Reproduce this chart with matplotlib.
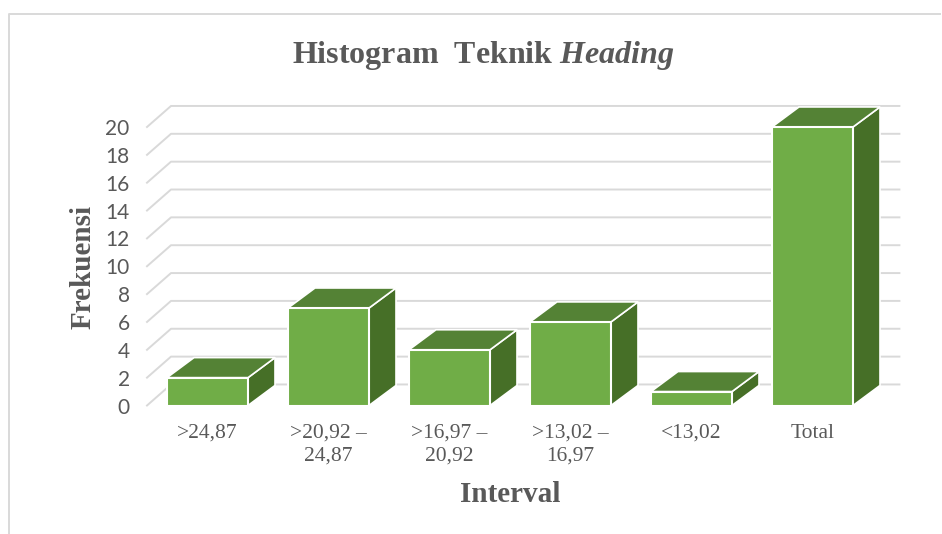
import matplotlib
matplotlib.use("Agg")
import matplotlib.pyplot as plt
from matplotlib.lines import Line2D
from matplotlib.patches import Polygon

categories = [">24,87", ">20,92 –\n24,87", ">16,97 –\n20,92", ">13,02 –\n16,97", "<13,02", "Total"]
frekuensi = [2, 7, 4, 6, 1, 20]
y_ticks = list(range(0, 21, 2))

W, H = 942, 534
bar_w = 81 / 121
# depth of the fake 3D, in data units
wall_dx, wall_dy = 24 / 121, 21 / 13.9
bar_dx, bar_dy = 27 / 121, 20 / 13.9

plt.rcParams["mathtext.fontset"] = "custom"
plt.rcParams["mathtext.it"] = "Liberation Serif:italic:bold"
plt.rcParams["mathtext.rm"] = "Liberation Serif:bold"

fig = plt.figure(figsize=(W / 100, H / 100), dpi=100)
# front plane of the plot: x 147-873 px, y 127-405.5 px
ax = fig.add_axes([147 / W, 1 - 405.5 / H, 726 / W, 278.5 / H])
ax.set_xlim(-0.5, 5.5)
ax.set_ylim(0, 20)

# walls
for t in y_ticks:
    ax.plot([-0.5, -0.5 + wall_dx, 5.5 + wall_dx + 0.02], [t, t + wall_dy, t + wall_dy],
            color="#D9D9D9", lw=1.4, clip_on=False, zorder=1)

# bars
for i, v in enumerate(frekuensi):
    l = i - bar_w / 2
    r = i + bar_w / 2
    top = [(l, v), (r, v), (r + bar_dx, v + bar_dy), (l + bar_dx, v + bar_dy)]
    side = [(r, 0), (r + bar_dx, bar_dy), (r + bar_dx, v + bar_dy), (r, v)]
    ax.add_patch(Polygon(side, closed=True, fc="#466F27", ec="white", lw=1.2, clip_on=False, zorder=2))
    ax.add_patch(Polygon(top, closed=True, fc="#548235", ec="white", lw=1.2, clip_on=False, zorder=2))
    ax.bar(i, v, width=bar_w, color="#70AD47", edgecolor="white", linewidth=1.5, clip_on=False, zorder=3)

for s in ax.spines.values():
    s.set_visible(False)

ax.set_yticks(y_ticks)
ax.tick_params(axis="y", length=0, pad=12.5, labelsize=15, labelcolor="#595959")
for lab in ax.get_yticklabels():
    lab.set_fontfamily("Lato")

ax.set_xticks(range(len(categories)))
ax.set_xticklabels(categories, family="Liberation Serif", fontsize=15.5, color="#595959", linespacing=1.3)
ax.tick_params(axis="x", length=0, pad=13)

fig.text(483 / W, 1 - 55 / H, r"Histogram  Teknik $\mathit{Heading}$", ha="center", va="center",
         family="Liberation Serif", fontweight="bold", fontsize=23, color="#595959")
fig.text(510 / W, 1 - 494 / H, "Interval", ha="center", va="center",
         family="Liberation Serif", fontweight="bold", fontsize=21, color="#595959")
fig.text(83 / W, 1 - 267 / H, "Frekuensi", ha="center", va="center", rotation=90,
         family="Liberation Serif", fontweight="bold", fontsize=21, color="#595959")

# chart frame, cropped at right and bottom
fig.add_artist(Line2D([9 / W, 9 / W, 940 / W], [0, 1 - 14 / H, 1 - 14 / H], color="#D9D9D9", lw=1.4))

fig.savefig("out.png", dpi=100)
